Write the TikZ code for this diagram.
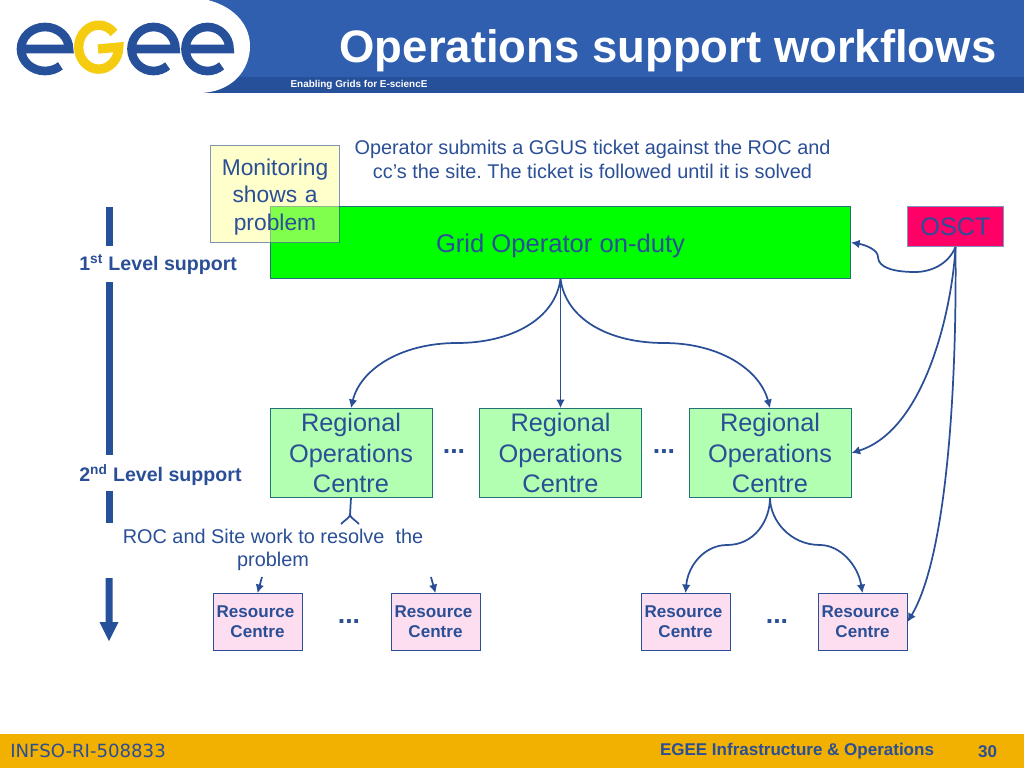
\documentclass[tikz,border=0pt]{standalone}
\usepackage{fontspec}
\usetikzlibrary{arrows.meta}
\setmainfont{Liberation Sans}
\newfontfamily\footfont{DejaVu Sans}
\definecolor{egeeblue}{HTML}{2F5FAE}
\definecolor{egeeband}{HTML}{26509A}
\definecolor{egeetext}{HTML}{2A4F96}
\definecolor{egeegold}{HTML}{F2B000}
\definecolor{egeeyellow}{HTML}{F5CC10}
\definecolor{osctred}{HTML}{FF0066}
\definecolor{notepaper}{HTML}{FFFF99}
\tikzset{
    roc/.style={draw=egeetext!80!green,line width=.7pt,fill=green!30,text=egeetext,minimum width=121.5pt,minimum height=66.5pt,text width=118pt,align=center,inner sep=0pt,font=\fontsize{19}{22.8}\selectfont},
    rc/.style={draw=egeetext,line width=.7pt,fill=magenta!13,text=egeetext,minimum width=66.7pt,minimum height=42.5pt,align=center,inner sep=0pt,font=\fontsize{12.8}{15}\selectfont\bfseries},
    note/.style={text=egeetext,align=center,inner sep=0pt,font=\frenchspacing\fontsize{14.9}{17.7}\selectfont},
    level/.style={text=egeetext,inner sep=0pt,anchor=west,font=\fontsize{14.7}{16}\selectfont\bfseries},
    dots/.style={text=egeetext,inner sep=0pt,font=\fontsize{20}{22}\selectfont\bfseries},
    link/.style={draw=egeetext,line width=1.3pt},
    linkto/.style={link,-{Latex[length=6.5pt,width=6.5pt]}},
}
\begin{document}
\begin{tikzpicture}[x=.75pt,y=.75pt]
    \useasboundingbox (0,-768) rectangle (1024,0);
    % header and footer
    \fill[egeeblue] (0,0) rectangle (1024,-93);
    \fill[egeeband] (0,-77) rectangle (1024,-93);
    \fill[white] (0,0) -- (208,0) .. controls (238,-8) and (250,-28) .. (250,-46) .. controls (250,-70) and (232,-93) .. (198,-93) -- (0,-93) -- cycle;
    \fill[egeegold] (0,-734) rectangle (1024,-768);
    % logo
    \foreach \cx/\wid in {45/24,153.5/22,207.5/22}
        \draw[egeeband,line width=6.5pt] (\cx-\wid,-49) -- (\cx+\wid,-49) arc[start angle=0,end angle=310,x radius=\wid,y radius=22];
    \draw[egeeyellow,line width=7pt] (114,-33) arc (40:180:20 and 22) arc (180:360:20 and 22) -- (98,-49);
    \node[inner sep=0pt,text=white,font=\fontsize{34.1}{40}\selectfont\bfseries] (title) at (668,-51) {Operations support workflows};
    \node[inner sep=0pt,text=white,font=\fontsize{7.45}{8}\selectfont\bfseries] (strap) at (359,-84.5) {Enabling Grids for E-sciencE};
    \node[inner sep=0pt,anchor=west,text=egeetext,font=\footfont\fontsize{13.6}{15}\selectfont] (infso) at (10,-751) {INFSO-RI-508833};
    \node[inner sep=0pt,text=egeetext,font=\fontsize{12.75}{14}\selectfont\bfseries] (infra) at (797,-751.5) {EGEE Infrastructure \& Operations};
    \node[inner sep=0pt,text=egeetext,font=\fontsize{12.75}{14}\selectfont\bfseries] (page) at (987.5,-751.5) {30};
    % support levels
    \foreach \ya/\yb in {207/246,282/455,491/523}
        \fill[egeeband] (105.5,-\ya) rectangle (112.5,-\yb);
    \fill[egeeband] (105.5,-578) -- (112.5,-578) -- (112.5,-622) -- (118.5,-622) -- (109,-641) -- (99.5,-622) -- (105.5,-622) -- cycle;
    \node[level] (first) at (79,-265) {1\textsuperscript{st} Level support};
    \node[level] (second) at (79,-475) {2\textsuperscript{nd} Level support};
    % boxes
    \node[draw=egeetext!80!green,line width=.7pt,fill=green,text=egeetext,minimum width=435pt,minimum height=54pt,inner sep=0pt,font=\fontsize{19.2}{22}\selectfont,text height=14pt,text depth=5pt] (grid) at (560.5,-242.5) {\raisebox{-3pt}{Grid Operator on-duty}};
    \node[draw=egeetext,draw opacity=.6,line width=.7pt,fill=notepaper,fill opacity=.5,text opacity=1,text=egeetext,minimum width=96.5pt,minimum height=73pt,text width=94pt,align=center,inner sep=0pt,font=\fontsize{17.1}{20.3}\selectfont] (monitor) at (275,-194) {\rule{0pt}{17pt}Monitoring\\shows a\\problem};
    \node[draw=egeetext!60,line width=.7pt,fill=osctred,text=egeetext,minimum width=72pt,minimum height=30pt,inner sep=0pt,font=\fontsize{19}{22}\selectfont] (osct) at (955.5,-226.5) {OSCT};
    \node[roc] (rocA) at (351,-453) {Regional\\Operations\\Centre};
    \node[roc] (rocB) at (560.5,-453) {Regional\\Operations\\Centre};
    \node[roc] (rocC) at (770,-453) {Regional\\Operations\\Centre};
    \node[rc] (rcA) at (257.5,-622) {Resource\hspace*{3pt}\\Centre};
    \node[rc] (rcB) at (435.5,-622) {Resource\hspace*{3pt}\\Centre};
    \node[rc] (rcC) at (685.5,-622) {Resource\hspace*{3pt}\\Centre};
    \node[rc] (rcD) at (862.5,-622) {Resource\hspace*{3pt}\\Centre};
    \node[dots] (dotsA) at (454,-452) {...};
    \node[dots] (dotsB) at (664,-452) {...};
    \node[dots] (dotsC) at (349,-622) {...};
    \node[dots] (dotsD) at (777,-622) {...};
    \node[note] (ticket) at (592.5,-159.5) {Operator submits a GGUS ticket against the ROC and\\cc’s the site. The ticket is followed until it is solved};
    \node[note] (work) at (273,-550) {ROC and Site work to resolve\ \ the\\problem};
    % connectors
    \coordinate (forkA) at (350,-515);
    \coordinate (tipA) at (341,-524);
    \coordinate (tipB) at (359,-524);
    \coordinate (stubA) at (262,-577);
    \coordinate (stubB) at (431,-577);
    \draw[link] (rocA.south) -- (forkA) .. controls (349,-518) and (345,-520) .. (tipA);
    \draw[link] (forkA) .. controls (351,-518) and (355,-520) .. (tipB);
    \draw[linkto] (stubA) -- (rcA.north);
    \draw[linkto] (stubB) -- (rcB.north);
    \draw[linkto] (grid.south) -- (rocB.north);
    \draw[linkto] (grid.south) .. controls (555,-320) and (510,-343) .. (457,-343) .. controls (400,-343) and (360,-370) .. (rocA.north);
    \draw[linkto] (grid.south) .. controls (566,-320) and (610,-343) .. (664,-343) .. controls (720,-343) and (760,-370) .. (rocC.north);
    \draw[linkto] (rocC.south) .. controls (770,-520) and (755,-545) .. (727,-545) .. controls (705,-545) and (688,-565) .. (rcC.north);
    \draw[linkto] (rocC.south) .. controls (770,-520) and (790,-545) .. (820,-545) .. controls (840,-545) and (858,-565) .. (rcD.north);
    \draw[linkto] (osct.south) .. controls (948,-265) and (930,-272) .. (915,-272) .. controls (895,-272) and (878,-268) .. (878,-257) .. controls (878,-250) and (866,-245) .. (grid.east);
    \draw[linkto] (osct.south) .. controls (952,-310) and (925,-430) .. (rocC.east);
    \draw[linkto] (osct.south) .. controls (957,-400) and (945,-560) .. (rcD.east);
\end{tikzpicture}
\end{document}
